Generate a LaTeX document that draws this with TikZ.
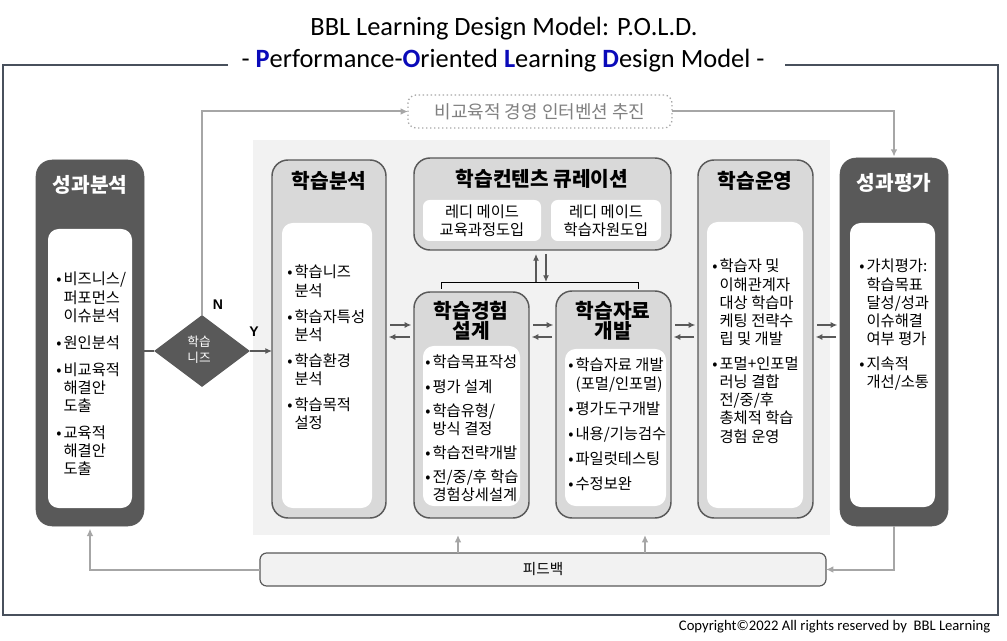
\documentclass[tikz,border=0pt]{standalone}
\usepackage{fontspec}
\setmainfont{Noto Sans CJK KR}
\newfontfamily\en{Carlito}
\newfontfamily\ar{Liberation Sans}
\usetikzlibrary{shapes.geometric,arrows.meta,calc}
\definecolor{dk}{RGB}{89,89,89}
\definecolor{mid}{RGB}{217,217,217}
\definecolor{pnl}{RGB}{242,242,242}
\definecolor{lg}{RGB}{166,166,166}
\definecolor{frm}{RGB}{72,80,92}
\definecolor{blu}{RGB}{10,10,185}
\definecolor{dtxt}{RGB}{128,128,128}
\newcommand\myrbox[6]{\node[#2, minimum width={(#5-#3)*0.75pt}, minimum height={(#6-#4)*0.75pt}, inner sep=0pt, outer sep=0pt] (#1) at ({(#3+#5)/2},{(#4+#6)/2}) {};}
\newcommand\bul{\makebox[5.5pt][l]{•}}
\newcommand\bl[1]{{\bfseries\color{blu}#1}}
\begin{document}
\begin{tikzpicture}[x=0.75pt,y=-0.75pt,
  darkbox/.style={fill=dk, draw=dk, rounded corners=12pt},
  graybox/.style={fill=mid, draw=dk, line width=1.1pt, rounded corners=12pt},
  whitebox/.style={fill=white, draw=none, rounded corners=8pt},
  ttl/.style={font=\bfseries\fontsize{15.2}{15}\selectfont, align=center, inner sep=0pt},
  wttl/.style={ttl, text=white},
  lst/.style={anchor=base west, inner sep=0pt, font=\fontsize{11.5}{13.5}\selectfont},
  arr/.style={draw=dk, line width=0.9pt, -{Latex[length=5pt,width=4.5pt]}},
  gl/.style={draw=lg, line width=1.5pt},
  garr/.style={gl, -{Latex[length=5.5pt,width=5pt]}}
]
\useasboundingbox (0,0) rectangle (1007,641);
% frame and title
\draw[frm, line width=1.1pt] (228,65) -- (3,65) -- (3,615) -- (998,615) -- (998,65) -- (785,65);
\node[font=\en\fontsize{19.8}{22}\selectfont] (t1) at (504,29) {BBL Learning Design Model: P.O.L.D.};
\node[font=\en\fontsize{19.8}{22}\selectfont] (t2) at (503,61) {- \bl{P}erformance-\bl{O}riented \bl{L}earning \bl{D}esign Model -};
\node[anchor=east, font=\en\fontsize{11}{12}\selectfont] (copy) at (995,627) {Copyright©2022 All rights reserved by\ \ BBL Learning};
% panel
\myrbox{panel}{fill=pnl}{253}{140}{830}{535}
% dotted top box
\myrbox{nonedu}{draw=lg, dotted, line width=1pt, rounded corners=6pt}{408}{95}{672}{128}
\node[font=\fontsize{13.5}{15}\selectfont, text=dtxt] (nonedut) at (nonedu) {비교육적 경영 인터벤션 추진};
% performance analysis
\myrbox{pa}{darkbox}{36}{160}{144}{526}
\node[wttl] (pat) at (90,185) {성과분석};
\myrbox{pain}{whitebox}{48}{229}{132}{508}
\node[lst] (pal) at (56,285) {\begin{tabular}[t]{@{}l@{}l@{}}
\bul&비즈니스/\\&퍼포먼스\\&이슈분석\\[6.75pt]
\bul&원인분석\\[6.75pt]
\bul&비교육적\\&해결안\\&도출\\[6.75pt]
\bul&교육적\\&해결안\\&도출
\end{tabular}};
% diamond
\node[diamond, fill=dk, minimum width={96*0.75pt}, minimum height={72*0.75pt}, inner sep=0pt] (dia) at (202,351) {};
\node[text=white, align=center, font=\fontsize{9.5}{12}\selectfont] (diat) at (199,350) {학습\\니즈};
\node[font=\ar\bfseries\fontsize{10.5}{12}\selectfont] (nl) at (218,305) {N};
\node[font=\ar\bfseries\fontsize{10.5}{12}\selectfont] (yl) at (254,332) {Y};
% learning analysis
\myrbox{la}{graybox}{272}{160}{386}{518}
\node[ttl] (lat) at (329,181) {학습분석};
\myrbox{lain}{whitebox}{282}{223}{372}{508}
\node[lst] (lal) at (287,278) {\begin{tabular}[t]{@{}l@{}l@{}}
\bul&학습니즈\\&분석\\[6pt]
\bul&학습자특성\\&분석\\[6pt]
\bul&학습환경\\&분석\\[6pt]
\bul&학습목적\\&설정
\end{tabular}};
% curation
\myrbox{cu}{graybox}{414}{158}{671}{250}
\node[ttl] (cut) at (542,179) {학습컨텐츠 큐레이션};
\myrbox{cu1}{whitebox, rounded corners=5pt}{423}{200}{541}{241}
\myrbox{cu2}{whitebox, rounded corners=5pt}{551}{200}{661}{241}
\node[align=center, font=\fontsize{11.5}{13.5}\selectfont] (cu1t) at (cu1) {레디 메이드\\교육과정도입};
\node[align=center, font=\fontsize{11.5}{13.5}\selectfont] (cu2t) at (cu2) {레디 메이드\\학습자원도입};
% experience design
\myrbox{ed}{graybox}{414}{292}{529}{518}
\node[ttl] (edt) at (471,321) {학습경험\\설계};
\myrbox{edin}{whitebox}{423}{346}{520}{506}
\node[lst] (edl) at (425,368) {\begin{tabular}[t]{@{}l@{}l@{}}
\bul&학습목표작성\\[4.5pt]
\bul&평가 설계\\[4.5pt]
\bul&학습유형/\\&방식 결정\\[4.5pt]
\bul&학습전략개발\\[4.5pt]
\bul&전/중/후 학습\\&경험상세설계
\end{tabular}};
% material development
\myrbox{md}{graybox}{556}{291}{671}{518}
\node[ttl] (mdt) at (613,321) {학습자료\\개발};
\myrbox{mdin}{whitebox}{565}{349}{666}{506}
\node[lst] (mdl) at (568,371) {\begin{tabular}[t]{@{}l@{}l@{}}
\bul&학습자료 개발\\&(포멀/인포멀)\\[5.25pt]
\bul&평가도구개발\\[5.25pt]
\bul&내용/기능검수\\[5.25pt]
\bul&파일럿테스팅\\[5.25pt]
\bul&수정보완
\end{tabular}};
% operation
\myrbox{op}{graybox}{698}{160}{813}{518}
\node[ttl] (opt) at (755,181) {학습운영};
\myrbox{opin}{whitebox}{707}{222}{803}{508}
\node[lst] (opl) at (712,272) {\begin{tabular}[t]{@{}l@{}l@{}}
\bul&학습자 및\\&이해관계자\\&대상 학습마\\&케팅 전략수\\&립 및 개발\\[5.25pt]
\bul&포멀+인포멀\\&러닝 결합\\&전/중/후\\&총체적 학습\\&경험 운영
\end{tabular}};
% performance evaluation
\myrbox{pe}{darkbox}{840}{158}{948}{526}
\node[wttl] (pet) at (894,183) {성과평가};
\myrbox{pein}{whitebox}{850}{223}{935}{507}
\node[lst] (pel) at (859,272) {\begin{tabular}[t]{@{}l@{}l@{}}
\bul&가치평가:\\&학습목표\\&달성/성과\\&이슈해결\\&여부 평가\\[5.25pt]
\bul&지속적\\&개선/소통
\end{tabular}};
% feedback bar
\myrbox{fb}{fill=pnl, draw=dk, line width=0.9pt, rounded corners=5pt}{260}{553}{826}{586}
\node[font=\fontsize{11}{13.5}\selectfont] (fbt) at (fb) {피드백};
% coordinates
\coordinate (r1) at (0,325);
\coordinate (r2) at (0,337);
\coordinate (bl) at (441,289);
\coordinate (br) at (638,289);
\coordinate (bk) at (0,282);
\coordinate (bu) at (536,282);
\coordinate (bd) at (546,282);
\coordinate (u1) at (458,0);
\coordinate (u2) at (645,0);
% connectors
\draw[draw=dk, line width=0.9pt] (pa.east |- dia.west) -- (dia.west);
\draw[arr] (dia.east) -- (dia.east -| la.west);
\draw[garr] (dia.north) |- (nonedu.west);
\draw[garr] (nonedu.east) -| ([yshift=1pt]pe.north);
\foreach \a/\b in {la/ed, ed/md, md/op, op/pe} {
  \draw[arr, shorten <=3pt, shorten >=2pt] (\a.east |- r1) -- (\b.west |- r1);
  \draw[arr, shorten <=3pt, shorten >=2pt] (\b.west |- r2) -- (\a.east |- r2);
}
\draw[black, line width=0.7pt] (bl) -- (bl |- bk) -- (br |- bk) -- (br);
\draw[arr, shorten >=3pt] (bu) -- (bu |- cu.south);
\draw[arr, shorten <=3pt] (bd |- cu.south) -- (bd);
\draw[garr, shorten >=2pt] (fb.west) -| (pa.south);
\draw[garr] (pe.south) |- (fb.east);
\draw[garr] (fb.north -| u1) -- (panel.south -| u1);
\draw[garr] (fb.north -| u2) -- (panel.south -| u2);
\end{tikzpicture}
\end{document}
